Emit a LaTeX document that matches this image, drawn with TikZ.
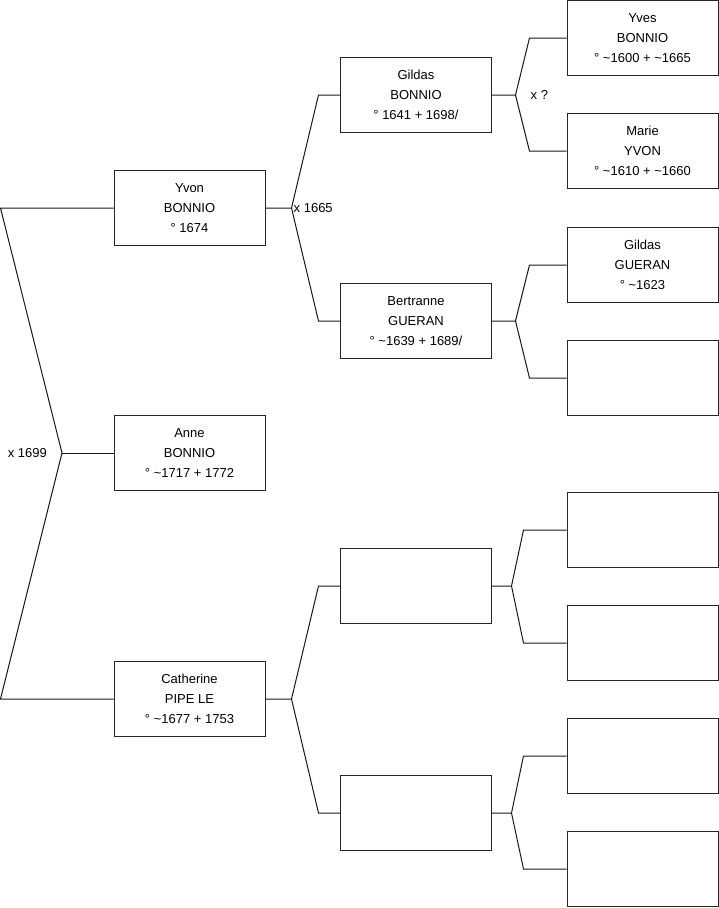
\documentclass[tikz,border=0pt]{standalone}
\usepackage{fontspec}
\setmainfont{Liberation Sans}
\usetikzlibrary{positioning,calc}

\begin{document}
\begin{tikzpicture}[x=1pt,y=-1pt,
  personne/.style={draw=black!85, line width=1pt, minimum width=151pt, minimum height=75pt,
    inner sep=0pt, align=center, font=\fontsize{13}{20}\selectfont},
  lien/.style={draw=black!90, line width=1pt},
  mariage/.style={inner sep=1pt, font=\fontsize{13}{16}\selectfont}]
  \useasboundingbox (0,0) rectangle (719,908);

  % generation 1
  \node[personne] (yvon) at (189.5,208) {Yvon\\BONNIO\\° 1674};
  \node[personne] (anne) at (189.5,453) {Anne\\BONNIO\\° \textasciitilde1717 + 1772};
  \node[personne] (catherine) at (189.5,699) {Catherine\\PIPE LE\\° \textasciitilde1677 + 1753};

  % generation 2
  \node[personne] (gildas) at (416,95) {Gildas\\BONNIO\\° 1641 + 1698/};
  \node[personne] (bertranne) at (416,321) {Bertranne\\GUERAN\\° \textasciitilde1639 + 1689/};
  \foreach \i/\y in {3/586,4/813}
    \node[personne] (mvide\i) at (416,\y) {};

  % generation 3
  \node[personne] (yves) at (642.5,38) {Yves\\BONNIO\\° \textasciitilde1600 + \textasciitilde1665};
  \node[personne] (marie) at (642.5,151) {Marie\\YVON\\° \textasciitilde1610 + \textasciitilde1660};
  \node[personne] (gildasG) at (642.5,265) {Gildas\\GUERAN\\° \textasciitilde1623};
  \foreach \i/\y in {4/378,5/530,6/643,7/756,8/869}
    \node[personne] (rvide\i) at (642.5,\y) {};

  % couple de gauche
  \coordinate (haut) at (0.5,208);
  \coordinate (j-anne) at (62,453);
  \coordinate (bas) at (0.5,699);
  \draw[lien] (yvon.west) -- (haut) -- (j-anne) -- (bas) -- (catherine.west);
  \draw[lien] (j-anne) -- (anne.west);
  \node[mariage, left=14pt of j-anne] (x1699) {x 1699};

  % parents
  \foreach \p/\a/\b/\ca/\cb in {yvon/26/21.5/gildas/bertranne, catherine/26/21.5/mvide3/mvide4,
      gildas/23.5/37/yves/marie, bertranne/23.5/37/gildasG/rvide4,
      mvide3/19.5/43/rvide5/rvide6, mvide4/19.5/43/rvide7/rvide8} {
    \coordinate (j-\p) at ($(\p.east)+(\a,0)$);
    \draw[lien] (\p.east) -- (j-\p) -- ($(\ca.west)+(-\b,0)$) -- (\ca.west);
    \draw[lien] (j-\p) -- ($(\cb.west)+(-\b,0)$) -- (\cb.west);
  }
  \node[mariage, right=1pt of j-yvon] (x1665) {x 1665};
  \node[mariage, right=14pt of j-gildas] (xinc) {x ?};
\end{tikzpicture}
\end{document}
